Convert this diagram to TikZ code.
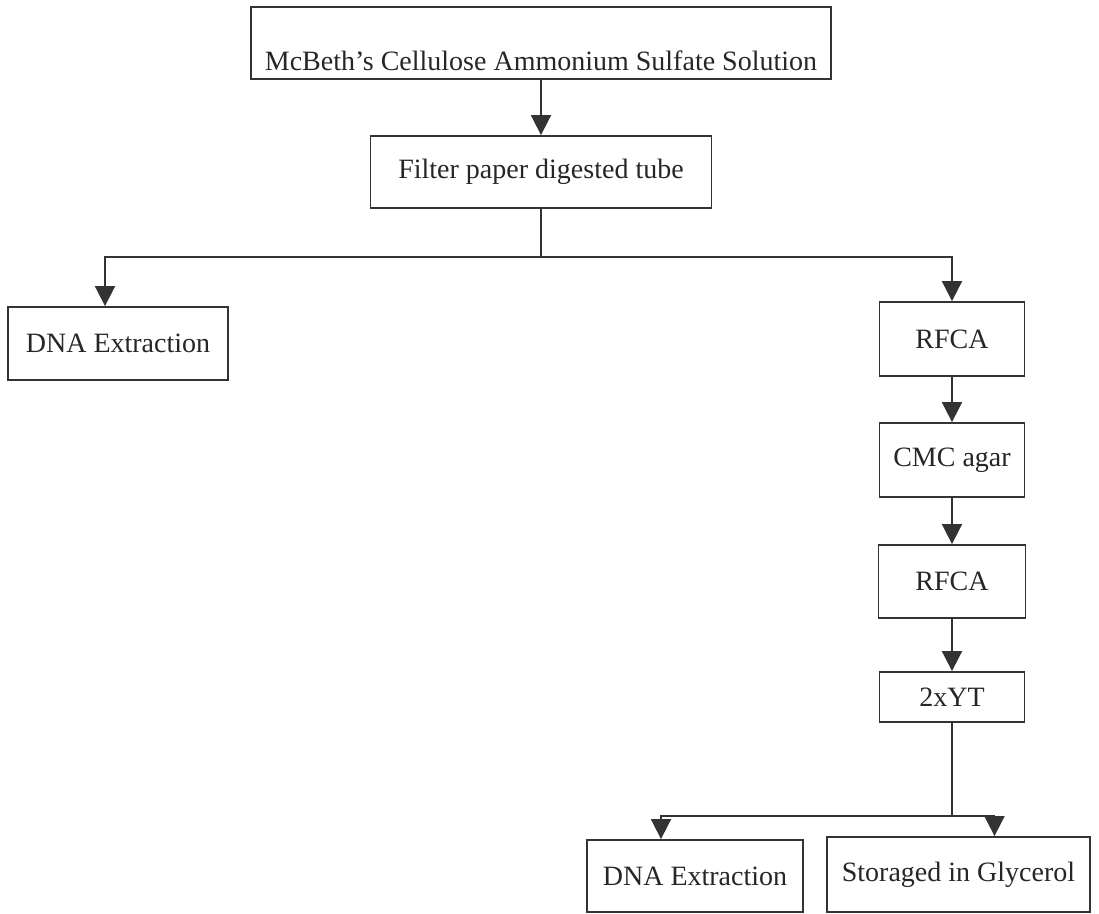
\documentclass[tikz,border=0pt]{standalone}
\usepackage{fontspec}
\setmainfont{Liberation Serif}
\usetikzlibrary{arrows.meta}

\tikzset{
  box/.style={draw=black!80, line width=0.9pt, rectangle, inner sep=0pt,
    font=\fontsize{14}{16}\selectfont, text=black!85},
  link/.style={draw=black!80, line width=0.9pt},
  arr/.style={link, -{Triangle[width=10pt,length=10pt]}}
}

\begin{document}
\begin{tikzpicture}[x=0.5pt,y=-0.5pt]
\useasboundingbox (0,0) rectangle (1099,914);
%top of the chain
\node[box, minimum width=290pt, text height=32pt, text depth=4pt] (sol) at (541,43) {McBeth’s Cellulose Ammonium Sulfate Solution};
\node[box, minimum width=170.5pt, minimum height=36pt] (filt) at (541,172) {Filter paper digested tube};
\coordinate (split) at (541,257);
%left branch
\node[box, minimum width=110pt, minimum height=36.5pt] (dnaA) at (118,343.5) {DNA Extraction};
%right branch
\node[box, minimum width=72.5pt, minimum height=37pt] (rfcaA) at (952,339) {RFCA};
\node[box, minimum width=72.5pt, minimum height=37pt] (cmc) at (952,460) {CMC agar};
\node[box, minimum width=73.5pt, minimum height=36.5pt] (rfcaB) at (952,581.5) {RFCA};
\node[box, minimum width=72.5pt, minimum height=25pt] (yt) at (952,697) {2xYT};
\coordinate (bsplit) at (952,816);
\node[box, minimum width=108pt, minimum height=36pt] (dnaB) at (695,876) {DNA Extraction};
\node[box, minimum width=131.5pt, minimum height=37.5pt] (stor) at (958.5,874.5) {Storaged in Glycerol};
%connectors
\draw[arr] (sol) -- (filt);
\draw[link] (filt.south) -- (split);
\draw[arr] (split) -| ([xshift=-6.5pt]dnaA.north);
\draw[arr] (split) -| (rfcaA.north);
\draw[arr] (rfcaA) -- (cmc);
\draw[arr] (cmc) -- (rfcaB);
\draw[arr] (rfcaB) -- (yt);
\draw[link] (yt.south) -- (bsplit);
\draw[arr] (bsplit) -| ([xshift=-17pt]dnaB.north);
\draw[arr] (bsplit) -| ([xshift=18pt]stor.north);
\end{tikzpicture}
\end{document}
